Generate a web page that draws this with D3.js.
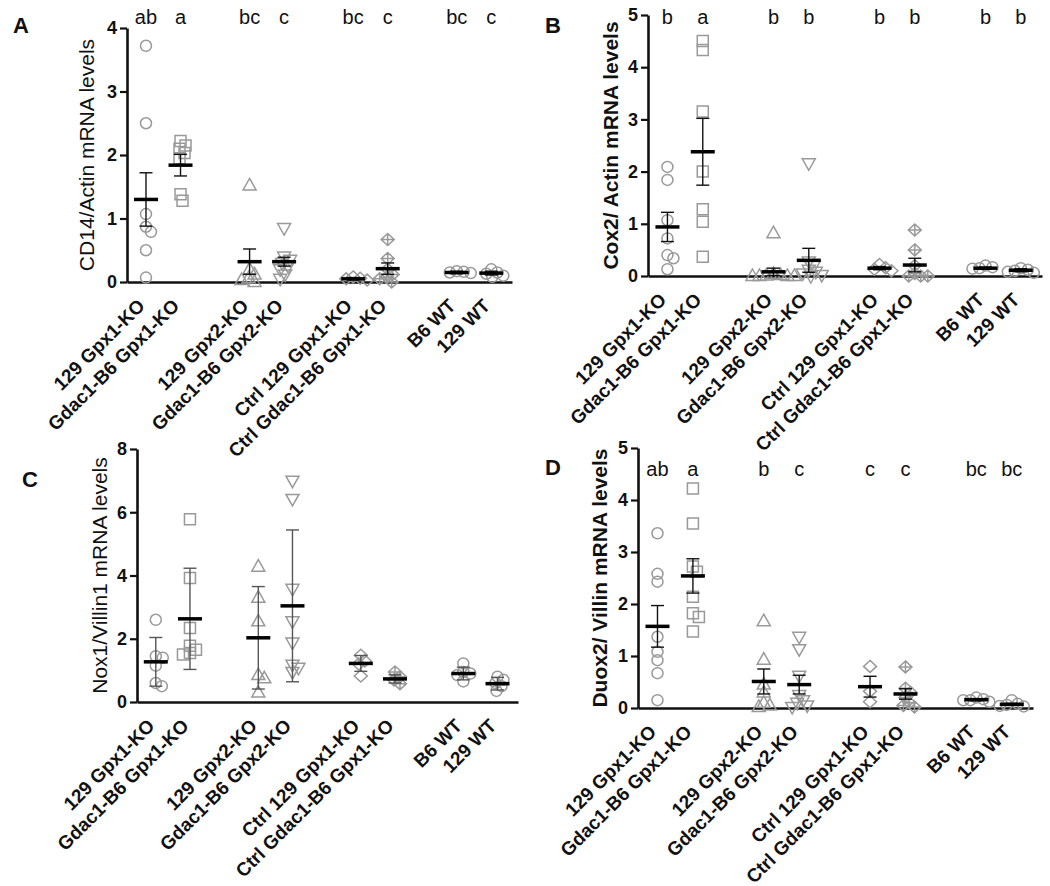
<!DOCTYPE html>
<html><head><meta charset="utf-8">
<script src="https://cdn.jsdelivr.net/npm/d3@7"></script>
<style>
body{margin:0;background:#fff}
svg text{font-family:"Liberation Sans",Arial,Helvetica,sans-serif;fill:#111}
</style>
</head><body>
<svg id="chart" width="1050" height="886"></svg>
<script>
// ---------------- DATA ----------------
const categories = ["129 Gpx1-KO","Gdac1-B6 Gpx1-KO","129 Gpx2-KO","Gdac1-B6 Gpx2-KO",
  "Ctrl 129 Gpx1-KO","Ctrl Gdac1-B6 Gpx1-KO","B6 WT","129 WT"];

// Panel A: CD14/Actin
const cd14Values = [
  [3.72,2.5,1.07,0.87,0.79,0.5,0.07],
  [2.22,2.15,2.1,2.03,1.95,1.38,1.28],
  [1.52,0.2,0.12,0.06,0.03,0.0],
  [0.85,0.4,0.35,0.3,0.25,0.2,0.12,0.05],
  [0.08,0.06,0.05,0.03],
  [0.67,0.37,0.2,0.12,0.08,0.05,0.0],
  [0.17,0.15,0.14,0.16],
  [0.2,0.15,0.13,0.1,0.08]
];
const cd14Means = [1.3,1.84,0.32,0.32,0.05,0.21,0.15,0.14];
const cd14Err   = [0.42,0.17,0.2,0.07,0.02,0.09,0.02,0.03];
const cd14Letters = ["ab","a","bc","c","bc","c","bc","c"];
const cd14Ticks = [0,1,2,3,4];

// Panel B: Cox2/Actin
const cox2Values = [
  [2.09,1.84,1.07,0.72,0.4,0.34,0.13],
  [4.5,4.33,3.15,2.0,1.28,1.04,0.37],
  [0.82,0.04,0.02,0.01,0,0,0,0],
  [2.16,0.28,0.2,0.12,0.08,0.05,0.02,0.0],
  [0.22,0.16,0.13,0.1],
  [0.88,0.5,0.2,0.05,0.0,0.0,0.0],
  [0.2,0.17,0.15,0.14],
  [0.15,0.12,0.1,0.08,0.06]
];
const cox2Means = [0.94,2.38,0.08,0.3,0.15,0.21,0.15,0.11];
const cox2Err   = [0.28,0.64,0.07,0.23,0.03,0.13,0.02,0.03];
const cox2Letters = ["b","a","b","b","b","b","b","b"];
const cox2Ticks = [0,1,2,3,4,5];

// Panel C: Nox1/Villin1 (mean ± SD)
const nox1Values = [
  [2.6,1.45,1.4,1.15,0.6,0.5],
  [5.78,3.92,2.34,1.78,1.65,1.55,1.5],
  [4.28,3.3,2.55,0.85,0.75,0.3],
  [7.0,6.42,3.58,2.55,1.88,1.18,1.08,0.95],
  [1.48,1.3,1.2,0.82],
  [0.95,0.8,0.7,0.58],
  [1.22,0.95,0.9,0.85,0.65],
  [0.8,0.7,0.6,0.5,0.35]
];
const nox1Means = [1.27,2.63,2.03,3.04,1.22,0.73,0.9,0.58];
const nox1Err   = [0.77,1.6,1.62,2.4,0.25,0.13,0.2,0.2];
const nox1Letters = ["","","","","","","",""];
const nox1Ticks = [0,2,4,6,8];

// Panel D: Duox2/Villin
const duox2Values = [
  [3.36,2.58,2.43,1.37,1.08,0.92,0.67,0.15],
  [4.22,3.55,2.72,2.62,2.14,1.82,1.75,1.47],
  [1.67,0.93,0.45,0.3,0.1,0.05,0.02],
  [1.37,1.13,0.62,0.25,0.15,0.1,0.05,0.02],
  [0.8,0.32,0.12],
  [0.79,0.38,0.3,0.2,0.1,0.05,0.02],
  [0.2,0.17,0.15,0.15,0.12],
  [0.15,0.08,0.06,0.04,0.03]
];
const duox2Means = [1.57,2.54,0.51,0.45,0.41,0.27,0.16,0.07];
const duox2Err   = [0.4,0.33,0.24,0.18,0.2,0.1,0.02,0.02];
const duox2Letters = ["ab","a","b","c","c","c","bc","bc"];
const duox2Ticks = [0,1,2,3,4,5];

// ---------------- LAYOUT ----------------
const panels = [
  {tag:"A", values:cd14Values, means:cd14Means, err:cd14Err, letters:cd14Letters, ticks:cd14Ticks,
   ylabel:"CD14/Actin mRNA levels", bold:false,
   left:127, right:512, y0:282, yTop:28, labX:87, tagX:13, tagY:33, letterY:24, errColor:"#111"},
  {tag:"B", values:cox2Values, means:cox2Means, err:cox2Err, letters:cox2Letters, ticks:cox2Ticks,
   ylabel:"Cox2/ Actin mRNA levels", bold:true,
   left:648, right:1042, y0:276, yTop:15, labX:611, tagX:545, tagY:33, letterY:24, errColor:"#111"},
  {tag:"C", values:nox1Values, means:nox1Means, err:nox1Err, letters:nox1Letters, ticks:nox1Ticks,
   ylabel:"Nox1/Villin1 mRNA levels", bold:false,
   left:137, right:518, y0:702, yTop:449, labX:100, tagX:22, tagY:487, letterY:0, errColor:"#555"},
  {tag:"D", values:duox2Values, means:duox2Means, err:duox2Err, letters:duox2Letters, ticks:duox2Ticks,
   ylabel:"Duox2/ Villin mRNA levels", bold:true,
   left:638, right:1033, y0:708, yTop:448, labX:600, tagX:545, tagY:475, letterY:476, errColor:"#111"}
];

const markerStroke = "#999";
const shapeNames = ["circle","square","triUp","triDown","diamond","crossDiamond","circle","circle"];
function shapePath(name){
  const r = 5.5;
  switch(name){
    case "circle": return d3.symbol(d3.symbolCircle, Math.PI*r*r)();
    case "square": return `M${-r},${-r}H${r}V${r}H${-r}Z`;
    case "triUp": return `M0,${-7}L${6.5},${4.5}L${-6.5},${4.5}Z`;
    case "triDown": return `M0,${7}L${6.5},${-4.5}L${-6.5},${-4.5}Z`;
    case "diamond": return `M0,-6L6.5,0L0,6L-6.5,0Z`;
    case "crossDiamond": return `M0,-6L6.5,0L0,6L-6.5,0ZM0,-6V6M-6.5,0H6.5`;
  }
}

// beeswarm-like horizontal spread (deterministic)
function swarm(vals, y, minDist){
  const order = vals.map((v,i)=>i).sort((a,b)=>vals[b]-vals[a]);
  const placed = [];
  const out = new Array(vals.length);
  order.forEach(i=>{
    const py = y(vals[i]);
    let off = 0;
    for(let k=0;k<200;k++){
      const cand = (k===0)?0:((k%2)? Math.ceil(k/2) : -Math.ceil(k/2));
      const ok = placed.every(p=>{const dx=p.x-cand, dy=p.y-py; return dx*dx+dy*dy >= minDist*minDist;});
      if(ok){off=cand;break;}
    }
    placed.push({x:off,y:py});
    out[i]=off;
  });
  return out;
}

const svg = d3.select("#chart");
const slot = i => i + Math.floor(i/2)*1; // pairs separated by a gap

panels.forEach(p=>{
  const g = svg.append("g");
  const yMax = p.ticks[p.ticks.length-1];
  const y = d3.scaleLinear().domain([0,yMax]).range([p.y0,p.yTop]);
  const x = d3.scaleLinear().domain([-0.55,10.6]).range([p.left,p.right]);

  // axes
  const ya = g.append("g").attr("transform",`translate(${p.left},0)`)
    .call(d3.axisLeft(y).tickValues(p.ticks).tickFormat(d3.format("d")).tickSize(7).tickSizeOuter(0).tickPadding(3));
  ya.select(".domain").attr("stroke","#111").attr("stroke-width",2.6);
  ya.selectAll(".tick line").attr("stroke","#111").attr("stroke-width",2.2);
  ya.selectAll(".tick text").attr("font-size",18).attr("font-weight","bold").attr("fill","#222")
    .attr("font-family","'Liberation Sans',Arial,sans-serif");

  const xa = g.append("g").attr("transform",`translate(0,${p.y0})`)
    .call(d3.axisBottom(x).tickValues([]).tickSizeOuter(0));
  xa.select(".domain").attr("stroke","#111").attr("stroke-width",2.6);

  // category labels
  categories.forEach((c,i)=>{
    const cx = x(slot(i));
    g.append("text").attr("transform",`translate(${cx},${p.y0+25}) rotate(-45)`)
      .attr("text-anchor","end").attr("font-size",19).attr("font-weight","bold").attr("fill","#222")
      .text(c);
  });

  // y label
  g.append("text").attr("transform",`translate(${p.labX},${(p.y0+p.yTop)/2}) rotate(-90)`)
    .attr("text-anchor","middle").attr("dy","0.35em").attr("font-size",21)
    .attr("font-weight",p.bold?"bold":"normal").attr("fill","#222").text(p.ylabel);

  // panel tag
  g.append("text").attr("x",p.tagX).attr("y",p.tagY).attr("font-size",22).attr("font-weight","bold")
    .attr("fill","#111").text(p.tag);

  // groups
  p.values.forEach((vals,i)=>{
    const cx = x(slot(i));
    const offs = swarm(vals,y,6.5);
    const path = shapePath(shapeNames[i]);
    g.append("g").selectAll("path").data(vals).join("path")
      .attr("d",path).attr("transform",(v,j)=>`translate(${cx+offs[j]},${y(v)})`)
      .attr("fill","none").attr("stroke",markerStroke).attr("stroke-width",1.5);

    const m = p.means[i], e = p.err[i];
    const eg = g.append("g").attr("stroke",p.errColor).attr("stroke-width",1.4);
    eg.append("line").attr("x1",cx).attr("x2",cx).attr("y1",y(Math.max(0,m-e))).attr("y2",y(m+e));
    eg.append("line").attr("x1",cx-6.5).attr("x2",cx+6.5).attr("y1",y(m+e)).attr("y2",y(m+e));
    if(m-e>0) eg.append("line").attr("x1",cx-6.5).attr("x2",cx+6.5).attr("y1",y(m-e)).attr("y2",y(m-e));
    g.append("line").attr("x1",cx-12).attr("x2",cx+12).attr("y1",y(m)).attr("y2",y(m))
      .attr("stroke","#000").attr("stroke-width",3.5);

    if(p.letters[i]){
      g.append("text").attr("x",cx).attr("y",p.letterY).attr("text-anchor","middle")
        .attr("font-size",20).attr("fill","#222").text(p.letters[i]);
    }
  });
});
</script>
</body></html>
